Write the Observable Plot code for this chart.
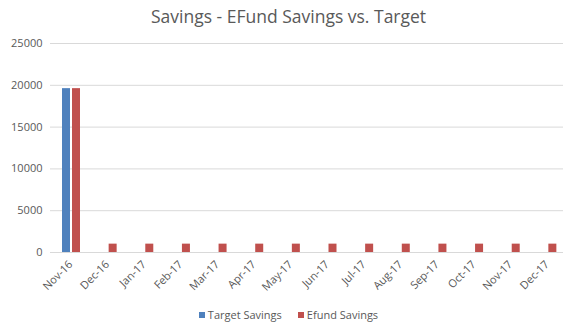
<!DOCTYPE html>
<html>
<head>
<meta charset="utf-8">
<script src="https://cdn.jsdelivr.net/npm/d3@7"></script>
<script src="https://cdn.jsdelivr.net/npm/@observablehq/plot@0.6"></script>
<style>
  body { margin: 0; background: #fff; font-family: "Open Sans", sans-serif; }
  #wrap { width: 577px; height: 332px; position: relative; }
  #title { position: absolute; top: 4px; left: 0; width: 577px; text-align: center; font-size: 17.5px; color: #595959; }
  #chart { position: absolute; top: 30px; left: 0; }
  #legend { position: absolute; top: 307px; left: 0; width: 577px; text-align: center; font-size: 11px; color: #595959; }
  .sw { display: inline-block; width: 6px; height: 6px; margin-right: 3px; vertical-align: 1px; }
  .item { margin: 0 8px; }
</style>
</head>
<body>
<div id="wrap">
  <div id="title">Savings - EFund Savings vs. Target</div>
  <div id="chart"></div>
  <div id="legend"></div>
</div>
<script>
const months = ["Nov-16","Dec-16","Jan-17","Feb-17","Mar-17","Apr-17","May-17","Jun-17","Jul-17","Aug-17","Sep-17","Oct-17","Nov-17","Dec-17"];
const targetSavings = [19600,0,0,0,0,0,0,0,0,0,0,0,0,0];
const efundSavings = [19600,1000,1000,1000,1000,1000,1000,1000,1000,1000,1000,1000,1000,1000];
const yTicks = [0,5000,10000,15000,20000,25000];
const seriesNames = ["Target Savings","Efund Savings"];
const seriesColors = ["#4f81bd","#c0504d"];

const target = months.map((m,i)=>({month:m, value:targetSavings[i]}));
const efund = months.map((m,i)=>({month:m, value:efundSavings[i]}));

const W = 577, H = 275, ML = 50, MR = 14;
const band = (W - ML - MR) / months.length;

const chart = Plot.plot({
  width: W, height: H,
  marginLeft: ML, marginRight: MR, marginTop: 13, marginBottom: 53,
  style: {fontFamily: "Open Sans, sans-serif", fontSize: "10.5px", color: "#595959", background: "#fff"},
  x: {type: "band", domain: months, padding: 0, round: false, label: null},
  y: {domain: [0, 25000], ticks: yTicks, label: null},
  marks: [
    Plot.gridY(yTicks.filter(d=>d>0), {stroke: "#d9d9d9", strokeOpacity: 1}),
    Plot.ruleY([0], {stroke: "#d9d9d9"}),
    Plot.barY(target, {x: "month", y: "value", fill: seriesColors[0], insetLeft: 12, insetRight: band - 20}),
    Plot.barY(efund, {x: "month", y: "value", fill: seriesColors[1], insetLeft: 22, insetRight: band - 30}),
    Plot.axisY({ticks: yTicks, tickSize: 0, tickPadding: 8, tickFormat: d => String(d), fill: "#595959", fontSize: 11}),
    Plot.axisX({tickSize: 0, tickPadding: 10, tickRotate: -45, fill: "#595959", fontSize: 11, dx: 2})
  ]
});
document.getElementById("chart").appendChild(chart);

const leg = document.getElementById("legend");
seriesNames.forEach((n,i)=>{
  const s = document.createElement("span");
  s.className = "item";
  s.innerHTML = `<span class="sw" style="background:${seriesColors[i]}"></span>${n}`;
  leg.appendChild(s);
});
</script>
</body>
</html>
